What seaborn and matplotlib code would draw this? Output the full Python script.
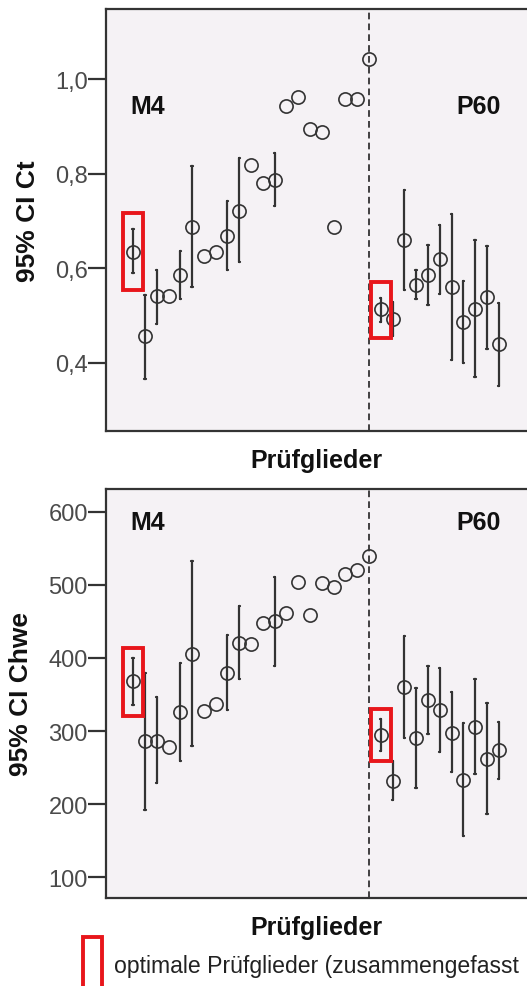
import numpy as np
import pandas as pd
import seaborn as sns
import matplotlib.pyplot as plt
from matplotlib.patches import Rectangle

# Prüfglieder (test members), left group M4, right group P60
members = [str(i) for i in range(1, 33)]

# 95% CI Ct: means and interval limits (None = no interval shown)
ct_mean = [0.635, 0.457, 0.541, 0.541, 0.586, 0.687, 0.625, 0.635, 0.668, 0.722,
           0.819, 0.780, 0.787, 0.942, 0.963, 0.894, 0.887, 0.688, 0.958, 0.958,
           1.042, 0.513, 0.493, 0.659, 0.565, 0.586, 0.620, 0.561, 0.486, 0.514,
           0.539, 0.440]
ct_lo = [0.590, 0.366, 0.483, None, 0.535, 0.560, None, None, 0.597, 0.613,
         None, None, 0.731, None, None, None, None, None, None, None,
         None, 0.487, 0.457, 0.553, 0.534, 0.523, 0.546, 0.407, 0.400, 0.371,
         0.430, 0.352]
ct_hi = [0.682, 0.544, 0.597, None, 0.637, 0.816, None, None, 0.742, 0.833,
         None, None, 0.844, None, None, None, None, None, None, None,
         None, 0.537, 0.529, 0.766, 0.597, 0.650, 0.692, 0.715, 0.573, 0.659,
         0.647, 0.527]

# 95% CI Chwe
chwe_mean = [368, 286, 287, 278, 326, 405, 327, 337, 379, 420,
             419, 448, 450, 461, 504, 459, 503, 497, 515, 520,
             539, 295, 232, 360, 290, 343, 329, 298, 233, 306,
             262, 274]
chwe_lo = [335, 192, 229, None, 259, 279, None, None, 329, 371,
           None, None, 389, None, None, None, None, None, None, None,
           None, 273, 206, 290, 222, 296, 272, 244, 157, 241,
           186, 234]
chwe_hi = [400, 380, 346, None, 393, 532, None, None, 431, 471,
           None, None, 511, None, None, None, None, None, None, None,
           None, 316, 259, 430, 359, 389, 386, 354, 311, 371,
           338, 313]

optimal = ["1", "22"]      # highlighted optimal members
split_member = "21"        # dashed separator between M4 and P60

ct_ticks = [0.4, 0.6, 0.8, 1.0]
ct_ticklabels = ["0,4", "0,6", "0,8", "1,0"]
chwe_ticks = [100, 200, 300, 400, 500, 600]


def long_form(mean, lo, hi):
    # three rows per member (lower, mean, upper); median -> mean, min/max -> CI
    rows = []
    for m, a, b, c in zip(members, lo, mean, hi):
        if a is None:
            continue
        for v in (a, b, c):
            rows.append({"member": m, "value": v})
    return pd.DataFrame(rows)


sns.set_theme(style="white")
plt.rcParams['font.family'] = ['Liberation Sans', 'DejaVu Sans']

W, H = 527, 987
fig = plt.figure(figsize=(W / 100, H / 100), dpi=100)
ax1 = fig.add_axes([106 / W, 1 - 432 / H, 1 - 106 / W, 422 / H])
ax2 = fig.add_axes([106 / W, 1 - 899 / H, 1 - 106 / W, 409 / H])

red = "#e8161b"
panels = [
    (ax1, ct_mean, ct_lo, ct_hi, "95% CI Ct", (0.256, 1.148), ct_ticks, ct_ticklabels, 0.035, 0.770),
    (ax2, chwe_mean, chwe_lo, chwe_hi, "95% CI Chwe", (71.7, 631), chwe_ticks, [str(t) for t in chwe_ticks], 14, 0.919),
]

for ax, mean, lo, hi, ylab, ylim, ticks, tlabels, pad, ty in panels:
    ax.set_facecolor("#f5f2f5")
    # intervals (only members that have one)
    sns.pointplot(data=long_form(mean, lo, hi), x="member", y="value", order=members,
                  estimator="median", errorbar=("pi", 100),
                  color="#333333", marker="", linestyle="none",
                  err_kws={"linewidth": 1.6}, capsize=0.12, ax=ax)
    # means as open circles
    sns.pointplot(x=members, y=mean, order=members, errorbar=None,
                  color="#333333", marker="o", linestyle="none",
                  markersize=9.5, markerfacecolor="none", markeredgewidth=1.2, ax=ax)
    ax.set_xlim(-2.3, 33.4)
    ax.set_ylim(*ylim)
    ax.set_yticks(ticks)
    ax.set_yticklabels(tlabels)
    ax.set_xticks([])
    ax.tick_params(axis="y", length=13, width=1.6, color="#333333",
                   labelsize=17, labelcolor="#4a4a4a", pad=0, left=True)
    ax.set_ylabel(ylab, fontsize=19, fontweight="bold", color="#111111", labelpad=11)
    ax.set_xlabel("Prüfglieder", fontsize=18, fontweight="bold", color="#111111", labelpad=12)
    for s in ["left", "bottom", "top"]:
        ax.spines[s].set_color("#333333")
        ax.spines[s].set_linewidth(1.6)
    ax.spines["right"].set_visible(False)

    ax.axvline(members.index(split_member), color="#222222", lw=1.2, ls=(0, (4, 2.5)), zorder=1)

    for m in optimal:
        i = members.index(m)
        y0 = lo[i] - pad
        y1 = hi[i] + pad
        ax.add_patch(Rectangle((i - 0.85, y0), 1.7, y1 - y0, fill=False,
                               ec=red, lw=2.8, zorder=5))

    ax.text(0.10, ty, "M4", transform=ax.transAxes, ha="center", va="center",
            fontsize=18, fontweight="bold", color="#111111")
    ax.text(0.884, ty, "P60", transform=ax.transAxes, ha="center", va="center",
            fontsize=18, fontweight="bold", color="#111111")

# legend for the red boxes
fig.patches.append(Rectangle((83 / W, -0.01), 19 / W, (H - 938) / H + 0.01,
                             transform=fig.transFigure, fill=False, ec=red, lw=2.8))
fig.text(114 / W, 1 - 967 / H, "optimale Prüfglieder (zusammengefasst",
         fontsize=16.6, color="#222222", va="center", ha="left")

fig.savefig("out.png", dpi=100)
